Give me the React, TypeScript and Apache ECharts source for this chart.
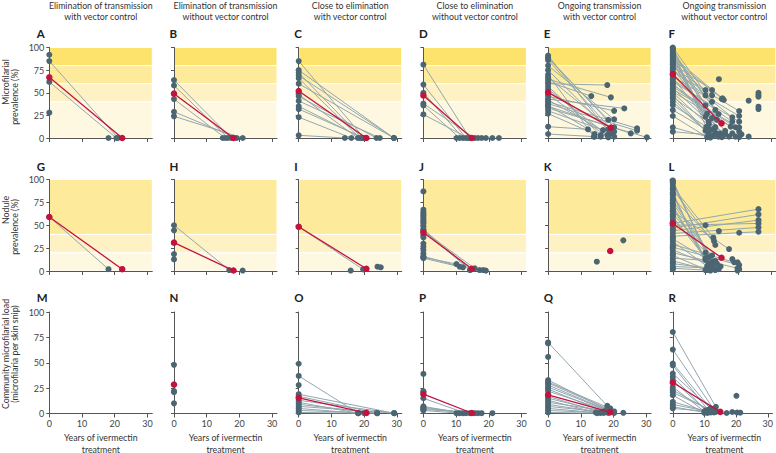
import React, { useEffect, useRef } from "react";
import * as echarts from "echarts";

type Pair = [number, number, number]; // [baseline %, years of treatment, follow-up value]
type Pt = [number, number];
type Mean = [number | null, number | null, number | null];

// ---------- texts ----------
const columnTitles = [
  "Elimination of transmission\nwith vector control",
  "Elimination of transmission\nwithout vector control",
  "Close to elimination\nwith vector control",
  "Close to elimination\nwithout vector control",
  "Ongoing transmission\nwith vector control",
  "Ongoing transmission\nwithout vector control",
];
const panelLetters = ["A", "B", "C", "D", "E", "F", "G", "H", "I", "J", "K", "L", "M", "N", "O", "P", "Q", "R"];
const rowNames = [
  ["Microfilarial", "prevalence (%)"],
  ["Nodule", "prevalence (%)"],
  ["Community microfilarial load", "(microfilaria per skin snip)"],
];
const xAxisName = "Years of ivermectin\ntreatment";
const xTicks = [0, 10, 20, 30];
const yTicks = [0, 25, 50, 75, 100];
const prevalenceBands = [0, 40, 60, 80, 100];
const noduleBands = [0, 20, 40, 100];

// ---------- data: row 1, microfilarial prevalence ----------
const pairsA: Pair[] = [[85, 21, 0], [62, 20.5, 0]];
const baseOnlyA = [92, 28];
const followOnlyA: Pt[] = [[18.1, 0]];
const meanA: Mean = [67, 22.3, 0];

const pairsB: Pair[] = [[64, 17.5, 0], [58, 16.5, 0], [43, 15.7, 0], [29, 19.2, 0], [24, 21, 0]];
const baseOnlyB: number[] = [];
const followOnlyB: Pt[] = [[14.9, 0]];
const meanB: Mean = [49, 18.2, 0];

const pairsC: Pair[] = [
  [85, 20, 0], [75, 29.1, 0], [72, 19.4, 0], [69, 29.1, 0], [66, 18.7, 0], [60, 29.1, 0],
  [48, 18.1, 0], [46, 23.8, 0], [41, 24.8, 0], [35, 19.4, 0], [32, 20, 0], [23, 16.1, 0], [3, 14.1, 0],
];
const baseOnlyC: number[] = [];
const followOnlyC: Pt[] = [];
const meanC: Mean = [52, 20.7, 0];

const pairsD: Pair[] = [[81, 14.2, 0], [59, 13, 0], [50, 12.1, 0], [38, 15.7, 0], [36, 11.1, 0], [26, 13.7, 0]];
const baseOnlyD: number[] = [];
const followOnlyD: Pt[] = [[10.1, 0], [16.7, 0], [17.8, 0], [19.1, 0], [21.1, 0], [23.1, 0]];
const meanD: Mean = [47, 14.8, 0];

const pairsE: Pair[] = [
  [91, 19, 5], [89, 20.2, 11.8], [88, 18.4, 20], [86, 19.5, 9], [80, 20.2, 20.6], [75, 18.4, 9.6],
  [70, 14, 1.5], [67, 20.2, 7], [65, 19.2, 44.9], [62, 13.2, 46.3], [60, 18.1, 58.5], [57, 16.1, 3.3],
  [54, 18.1, 3.3], [48, 18.4, 0.7], [46, 20.2, 30], [43, 23.3, 32.7], [42, 20.2, 1.5], [40, 27.2, 10.7],
  [38, 27.2, 8], [36, 16.1, 1.5], [35, 25.3, 5.1], [33, 30.2, 0.7], [30, 16.8, 8.8], [27, 14.2, 4.4],
  [12.5, 12.2, 9.6], [4.4, 14.2, 1.5],
];
const baseOnlyE: number[] = [];
const followOnlyE: Pt[] = [];
const meanE: Mean = [50.4, 19.2, 11.4];

const pairsF: Pair[] = [
  [100, 12, 40], [99, 10.5, 27], [97.8, 10, 36], [97, 10.2, 12], [95.2, 13, 31], [93, 11, 15],
  [92.6, 14, 26.5], [91, 11.5, 9], [89.7, 15.2, 43.8], [88, 12.5, 10], [86.8, 15.6, 42], [85, 13.5, 20],
  [84.2, 10, 23.5], [82, 14.5, 5], [81.6, 12, 53], [78.7, 10, 53], [77, 15.5, 3], [75.7, 18.2, 22.8],
  [73.2, 20.3, 29.8], [70, 16, 8], [67.6, 20.3, 24.3], [66, 11, 18], [64.7, 18.2, 18], [62.1, 20.3, 18],
  [60, 12, 22], [59.2, 17.7, 12.5], [56.6, 19.2, 11.8], [55, 13, 12], [53.7, 20.3, 11.8], [51.1, 20.3, 7],
  [50, 15, 1], [47.4, 10, 8], [45, 16, 5], [43.8, 11, 4], [40, 12, 2], [36.4, 13, 6], [30.9, 14, 1.5],
  [24.3, 10.5, 1], [11.8, 11.5, 0.5], [7, 12.5, 3],
];
const baseOnlyF: number[] = [];
const followOnlyF: Pt[] = [
  [14.1, 65], [23.2, 41.2], [26.2, 50], [26.2, 47.4], [26.2, 45.6], [26.2, 34.6], [26.2, 32],
  [23.2, 1.5], [17.2, 1.5], [19.2, 1.5], [18.2, 5.1], [10, 47], [12, 47], [15, 43], [20.3, 1], [21, 4],
];
const meanF: Mean = [70.6, 14.9, 16.2];

// ---------- data: row 2, nodule prevalence ----------
const pairsG: Pair[] = [[59, 18.1, 2]];
const baseOnlyG: number[] = [];
const followOnlyG: Pt[] = [];
const meanG: Mean = [59, 22.3, 2];

const pairsH: Pair[] = [[50, 16.9, 1]];
const baseOnlyH = [44.5, 18.5, 12.7];
const followOnlyH: Pt[] = [[21, 0.5]];
const meanH: Mean = [31, 18.2, 0.5];

const pairsI: Pair[] = [[48.3, 19.7, 1.8]];
const baseOnlyI: number[] = [];
const followOnlyI: Pt[] = [[15.9, 0.5], [24.1, 4.7], [25.1, 4]];
const meanI: Mean = [48.3, 20.7, 2.5];

const pairsJ: Pair[] = [[44.7, 14.2, 1], [43.5, 15.7, 2.9], [45.5, 14.5, 1.5], [15, 10.1, 7.6], [16, 12.1, 4], [14, 11.1, 4.7]];
const baseOnlyJ = [87, 67, 64.4, 62.5, 60.7, 58.9, 57, 55, 53.5, 52, 49, 39, 36.7, 30, 26.5, 23, 19];
const followOnlyJ: Pt[] = [[17.2, 1], [18.3, 1], [19.1, 0.4]];
const meanJ: Mean = [42, 14.8, 2.5];

const pairsK: Pair[] = [];
const baseOnlyK: number[] = [];
const followOnlyK: Pt[] = [[14.9, 10.2], [23, 33.5]];
const meanK: Mean = [null, 19, 21.8];

const pairsL: Pair[] = [
  [99, 10, 20], [97, 11, 15], [95, 12, 10], [92, 12.4, 36.4], [89, 13, 28.4], [86, 10.5, 5], [83, 11.5, 2],
  [80, 12.6, 32.7], [77, 13.5, 8], [74, 14, 3], [71, 10, 12], [68, 11, 8], [65, 17.2, 24], [62, 12, 17],
  [59, 13, 1], [56, 14.6, 5], [52, 26.2, 67.6], [50, 26.2, 52], [47, 26.2, 61.8], [44, 26.2, 55.6],
  [41, 26.2, 47.6], [38, 26.2, 42.9], [35, 10, 14], [32, 11, 4], [29, 18.8, 9.5], [26, 20.3, 6.5],
  [23, 12, 6], [20, 19.8, 3], [17, 10.5, 1], [14, 13, 11], [11, 11.5, 0.5], [8, 14, 2], [5, 12.5, 3], [3, 10, 1],
];
const baseOnlyL = [98, 90, 84, 78, 72, 66, 60, 54, 45, 36, 27, 18, 9, 2];
const followOnlyL: Pt[] = [[10, 50], [14.1, 43.6], [20.3, 41.8], [18.2, 13], [19.8, 9.5], [20.3, 2], [19.8, 0.5]];
const meanL: Mean = [52, 14.9, 14.5];

// ---------- data: row 3, community microfilarial load ----------
const pairsM: Pair[] = [];
const baseOnlyM: number[] = [];
const followOnlyM: Pt[] = [];
const meanM: Mean = [null, null, null];

const pairsN: Pair[] = [];
const baseOnlyN = [48, 22, 21, 10];
const followOnlyN: Pt[] = [];
const meanN: Mean = [28.5, null, null];

const pairsO: Pair[] = [
  [37, 18.2, 0.3], [19, 29.2, 0.3], [17, 24, 0.3], [13, 29.2, 0.3], [11, 18.2, 0.3],
  [9, 24, 0.3], [7, 29.2, 0.3], [5, 18.2, 0.3], [3, 24, 0.3], [1, 20, 0.3],
];
const baseOnlyO = [49, 28];
const followOnlyO: Pt[] = [];
const meanO: Mean = [15.4, 20.7, 0.6];

const pairsP: Pair[] = [[15, 13, 0.3], [7, 12.1, 0.3], [6, 14.2, 0.3], [5, 15.7, 0.3], [4, 16.7, 0.3], [3, 11.1, 0.3]];
const baseOnlyP = [39, 22, 21];
const followOnlyP: Pt[] = [[10.1, 0.3], [17.8, 0.3], [21.1, 0.3]];
const meanP: Mean = [19, 14.8, 0.5];

const pairsQ: Pair[] = [
  [70, 18.1, 7.5], [33, 18, 4], [31, 19, 5], [30, 20.2, 2], [28, 18.5, 3], [26, 19.5, 1.5], [24, 17, 2],
  [22, 20, 1], [17, 16, 1], [15, 18, 1], [13, 14.6, 1], [11, 19, 2], [9, 17, 0.5], [7, 20.2, 0.5],
  [5, 16, 0.5], [3, 18.5, 0.5], [1, 15, 0.3],
];
const baseOnlyQ = [69, 55.7];
const followOnlyQ: Pt[] = [[23, 0.7]];
const meanQ: Mean = [18.4, 19, 1.3];

const pairsR: Pair[] = [
  [80.3, 13.6, 6.5], [63, 13, 4], [49.2, 12.5, 3], [47.5, 11.5, 2], [39.3, 12, 5], [36, 11, 1.5],
  [32.8, 10.5, 3], [26.2, 10, 2], [23, 13, 1], [20.7, 11.5, 4], [18, 10, 0.5], [11.5, 12, 1],
  [8.9, 10.5, 2.5], [6.6, 11, 0.5], [5, 13.5, 1.5],
];
const baseOnlyR: number[] = [];
const followOnlyR: Pt[] = [[20.1, 17.4], [18.8, 1.5], [20.3, 1], [21.3, 0.8], [17, 0.5]];
const meanR: Mean = [30.5, 15, 1.6];

const panelPairs = [pairsA, pairsB, pairsC, pairsD, pairsE, pairsF, pairsG, pairsH, pairsI, pairsJ, pairsK, pairsL, pairsM, pairsN, pairsO, pairsP, pairsQ, pairsR];
const panelBaseOnly = [baseOnlyA, baseOnlyB, baseOnlyC, baseOnlyD, baseOnlyE, baseOnlyF, baseOnlyG, baseOnlyH, baseOnlyI, baseOnlyJ, baseOnlyK, baseOnlyL, baseOnlyM, baseOnlyN, baseOnlyO, baseOnlyP, baseOnlyQ, baseOnlyR];
const panelFollowOnly = [followOnlyA, followOnlyB, followOnlyC, followOnlyD, followOnlyE, followOnlyF, followOnlyG, followOnlyH, followOnlyI, followOnlyJ, followOnlyK, followOnlyL, followOnlyM, followOnlyN, followOnlyO, followOnlyP, followOnlyQ, followOnlyR];
const panelMeans = [meanA, meanB, meanC, meanD, meanE, meanF, meanG, meanH, meanI, meanJ, meanK, meanL, meanM, meanN, meanO, meanP, meanQ, meanR];

// ---------- layout & style ----------
const FONT = 'Lato, "Noto Sans", sans-serif';
const COL_X = [49.3, 174, 298.7, 423.4, 548.1, 672.8];
const ROW_TOP = [47.5, 179.5, 312];
const ROW_H = [90.5, 91.5, 101.5];
const PLOT_W = 103;
const X_MAX = 31.5;
const AXIS = "#555555";
const DOT = "#4b6672";
const LINE = "#93a6ae";
const RED = "#c3123d";
const PREV_COLORS = ["#fff8e1", "#fef1c3", "#fdeb9b", "#fde36c"];
const NOD_COLORS = ["#fff8e1", "#fef1c3", "#fdeb9b"];
const LETTER_Y = [33.5, 166.3, 297.5];
const ROWNAME_POS = [
  [[5, 82], [14, 97]],
  [[5, 210], [14, 227]],
  [[5, 354], [14, 354]],
];

function bandData(bands: number[], colors: string[]) {
  const out: any[] = [];
  for (let i = 0; i < bands.length - 1; i++) {
    out.push([{ yAxis: bands[i], itemStyle: { color: colors[i] } }, { yAxis: bands[i + 1] }]);
  }
  return out;
}

function buildOption() {
  const grid: any[] = [];
  const xAxis: any[] = [];
  const yAxis: any[] = [];
  const series: any[] = [];
  const graphic: any[] = [];

  for (let r = 0; r < 3; r++) {
    for (let c = 0; c < 6; c++) {
      const idx = r * 6 + c;
      grid.push({ left: COL_X[c], top: ROW_TOP[r], width: PLOT_W, height: ROW_H[r], containLabel: false });
      xAxis.push({
        gridIndex: idx, type: "value", min: 0, max: X_MAX, z: 1,
        axisLine: { show: true, onZero: false, lineStyle: { color: AXIS, width: 1 } },
        axisTick: { show: true, customValues: xTicks, length: 4, lineStyle: { color: AXIS } },
        axisLabel: { show: r === 2, customValues: xTicks, fontSize: 9, color: "#444", margin: 5, fontFamily: FONT },
        splitLine: { show: false },
      });
      yAxis.push({
        gridIndex: idx, type: "value", min: 0, max: 100, interval: 25, z: 1,
        axisLine: { show: true, onZero: false, lineStyle: { color: AXIS, width: 1 } },
        axisTick: { show: true, length: 3, lineStyle: { color: AXIS } },
        axisLabel: { show: c === 0, fontSize: 9, color: "#444", margin: 5, fontFamily: FONT },
        splitLine: { show: false },
      });

      if (r < 2) {
        series.push({
          type: "scatter", xAxisIndex: idx, yAxisIndex: idx, data: [], z: 0, silent: true,
          markArea: {
            silent: true,
            itemStyle: { borderColor: "#ffffff", borderWidth: 1 },
            data: r === 0 ? bandData(prevalenceBands, PREV_COLORS) : bandData(noduleBands, NOD_COLORS),
          },
        });
      }

      const pairs = panelPairs[idx];
      series.push({
        type: "lines", coordinateSystem: "cartesian2d", xAxisIndex: idx, yAxisIndex: idx, z: 2, silent: true,
        data: pairs.map((p) => ({ coords: [[0, p[0]], [p[1], p[2]]] })),
        lineStyle: { color: LINE, width: 1, opacity: 1, curveness: 0 },
      });

      const dots: number[][] = [
        ...pairs.map((p) => [0, p[0]]),
        ...panelBaseOnly[idx].map((b) => [0, b]),
        ...pairs.map((p) => [p[1], p[2]]),
        ...panelFollowOnly[idx],
      ];
      series.push({
        type: "scatter", xAxisIndex: idx, yAxisIndex: idx, z: 3, silent: true, clip: false,
        data: dots, symbolSize: 6, itemStyle: { color: DOT, opacity: 1 },
      });

      const m = panelMeans[idx];
      const meanPts: number[][] = [];
      if (m[0] !== null) meanPts.push([0, m[0]]);
      if (m[1] !== null && m[2] !== null) meanPts.push([m[1], m[2]]);
      if (meanPts.length) {
        series.push({
          type: "line", xAxisIndex: idx, yAxisIndex: idx, z: 4, silent: true, clip: false,
          data: meanPts, symbol: "circle", symbolSize: 6.5, showSymbol: true,
          lineStyle: { color: RED, width: 1.3 }, itemStyle: { color: RED },
        });
      }

      // panel letter
      graphic.push({
        type: "text", x: COL_X[c] - (c === 0 ? 12.6 : 4.4), y: LETTER_Y[r],
        style: { text: panelLetters[idx], fontSize: 11.5, fontWeight: "bold", fill: "#222", fontFamily: FONT, verticalAlign: "middle", align: "left" },
      });

      if (r === 2) {
        graphic.push({
          type: "text", x: COL_X[c] + PLOT_W / 2, y: 443,
          style: { text: xAxisName, fontSize: 8.8, lineHeight: 12, fill: "#333", fontFamily: FONT, align: "center", verticalAlign: "middle" },
        });
      }
    }
  }

  for (let c = 0; c < 6; c++) {
    graphic.push({
      type: "text", x: COL_X[c] + PLOT_W / 2, y: 0,
      style: { text: columnTitles[c], fontSize: 8.8, lineHeight: 10.8, fill: "#333", fontFamily: FONT, align: "center", verticalAlign: "top" },
    });
  }

  for (let r = 0; r < 3; r++) {
    for (let l = 0; l < 2; l++) {
      const pos = ROWNAME_POS[r][l];
      graphic.push({
        type: "text", x: pos[0], y: pos[1], rotation: Math.PI / 2,
        style: { text: rowNames[r][l], fontSize: 8.8, fill: "#333", fontFamily: FONT, align: "center", verticalAlign: "middle" },
      });
    }
  }

  return { animation: false, backgroundColor: "#ffffff", grid, xAxis, yAxis, series, graphic };
}

export default function App() {
  const ref = useRef<HTMLDivElement>(null);
  useEffect(() => {
    if (!ref.current) return;
    const chart = echarts.init(ref.current, null, { renderer: "svg" });
    chart.setOption(buildOption() as any);
    return () => chart.dispose();
  }, []);
  return <div ref={ref} style={{ position: "absolute", left: 0, top: 0, width: 776, height: 453 }} />;
}
